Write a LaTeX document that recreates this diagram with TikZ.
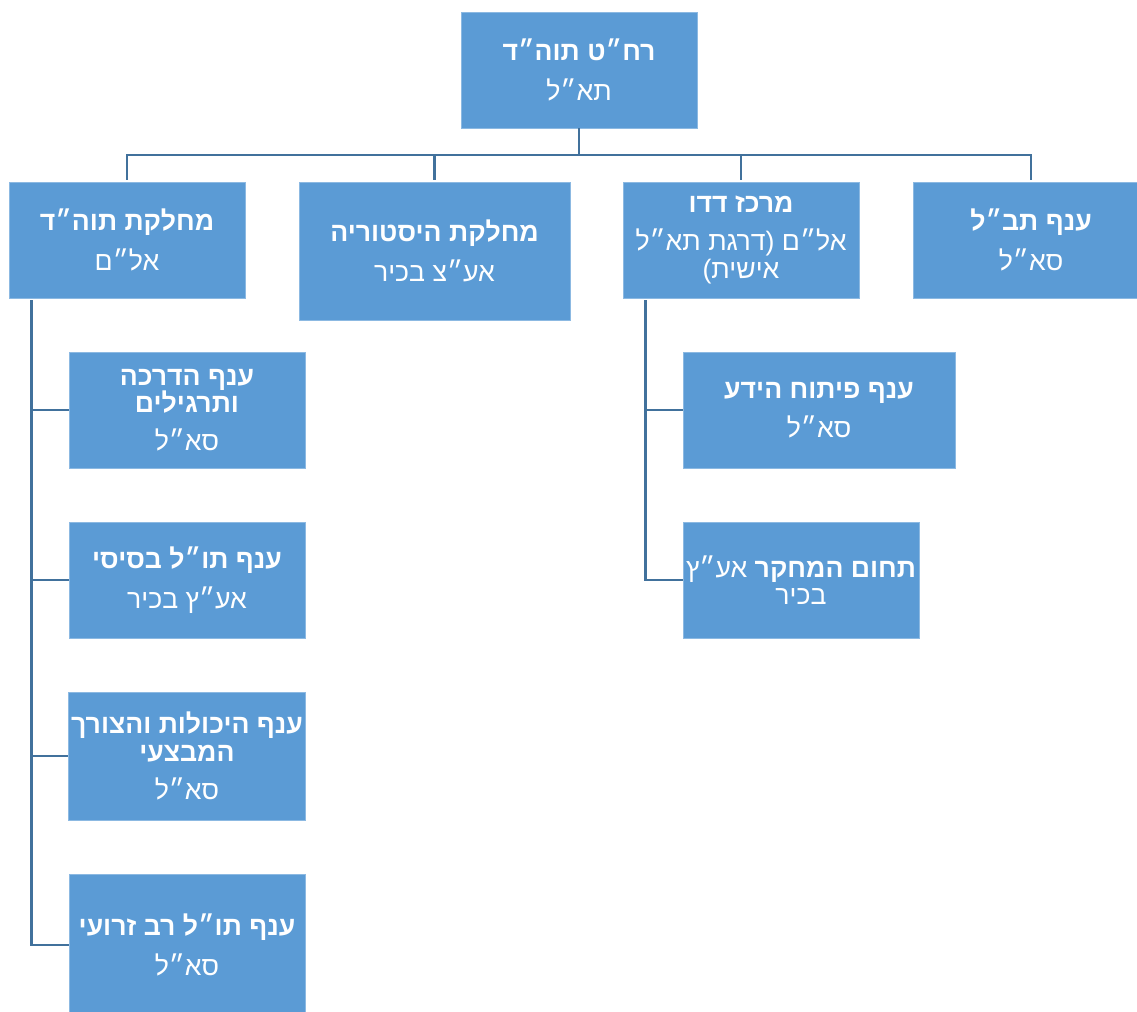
\documentclass[tikz,border=0pt]{standalone}
\usepackage{fontspec}
\setmainfont{Liberation Sans}[Script=Hebrew]
\TeXXeTstate=1
\newcommand{\heb}[1]{\beginR #1\endR}
\newcommand{\hb}[1]{{\bfseries\beginR #1\endR}}
\definecolor{boxblue}{HTML}{5B9BD5}
\definecolor{linkblue}{RGB}{65,113,156}
\begin{document}
\begin{tikzpicture}[x=0.75pt,y=-0.75pt,
  box/.style={fill=boxblue, draw=boxblue!70!white, line width=0.4pt, text=white,
    align=center, minimum width=177pt, minimum height=87pt, inner sep=2pt,
    font=\fontsize{20}{20.5}\selectfont},
  conn/.style={draw=linkblue, line width=2pt}]
\useasboundingbox (0,0) rectangle (1137,1011);

\node[box] (top) at (579,70) {\hb{רח״ט תוה״ד}\\[9pt]\heb{תא״ל}};

\node[box] (A) at (127,240) {\hb{מחלקת תוה״ד}\\[9pt]\heb{אל״ם}};
\node[box, minimum width=203.25pt, minimum height=103.5pt] (B) at (434.5,251) {\hb{מחלקת היסטוריה}\\[9pt]\heb{אע״צ בכיר}};
\node[box] (C) at (741,240) {\hb{מרכז דדו}\\[8pt]\heb{אל״ם (דרגת תא״ל}\\\heb{אישית)}};
\node[box, minimum width=168pt] (D) at (1025,240) {};
\node at (1031,240) [text=white, align=center, font=\fontsize{20}{20.5}\selectfont] (Dt) {\hb{ענף תב״ל}\\[9pt]\heb{סא״ל}};

\node[box] (L1) at (187,410) {\hb{ענף הדרכה}\\\hb{ותרגילים}\\[8pt]\heb{סא״ל}};
\node[box] (L2) at (187,580) {\hb{ענף תו״ל בסיסי}\\[9pt]\heb{אע״ץ בכיר}};
\node[box, minimum height=96pt] (L3) at (187,756) {\hb{ענף היכולות והצורך}\\\hb{המבצעי}\\[8pt]\heb{סא״ל}};
\node[box, minimum height=106.5pt] (L4) at (187,945) {\hb{ענף תו״ל רב זרועי}\\[9pt]\heb{סא״ל}};

\node[box, minimum width=204pt] (R1) at (819,410) {\hb{ענף פיתוח הידע}\\[9pt]\heb{סא״ל}};
\node[box] (R2) at (801,580) {\heb{{\bfseries תחום המחקר} אע״ץ}\\\heb{בכיר}};

\coordinate (bar) at (579,155);
\draw[conn] (top.south) -- (bar);
\draw[conn] ([yshift=1.5pt]A.north) |- (bar) -| ([xshift=4.5pt,yshift=1.5pt]D.north);
\draw[conn] ([yshift=1.5pt]B.north) -- (B.north |- bar);
\draw[conn] ([yshift=1.5pt]C.north) -- (C.north |- bar);

\coordinate (aL) at ([xshift=17.25pt,yshift=-1.5pt]A.south west);
\draw[conn] (aL) |- (L4.west);
\foreach \n in {L1,L2,L3} \draw[conn] (aL) |- (\n.west);

\coordinate (cL) at ([xshift=17.25pt,yshift=-1.5pt]C.south west);
\draw[conn] (cL) |- (R2.west);
\draw[conn] (cL) |- (R1.west);
\end{tikzpicture}
\end{document}
